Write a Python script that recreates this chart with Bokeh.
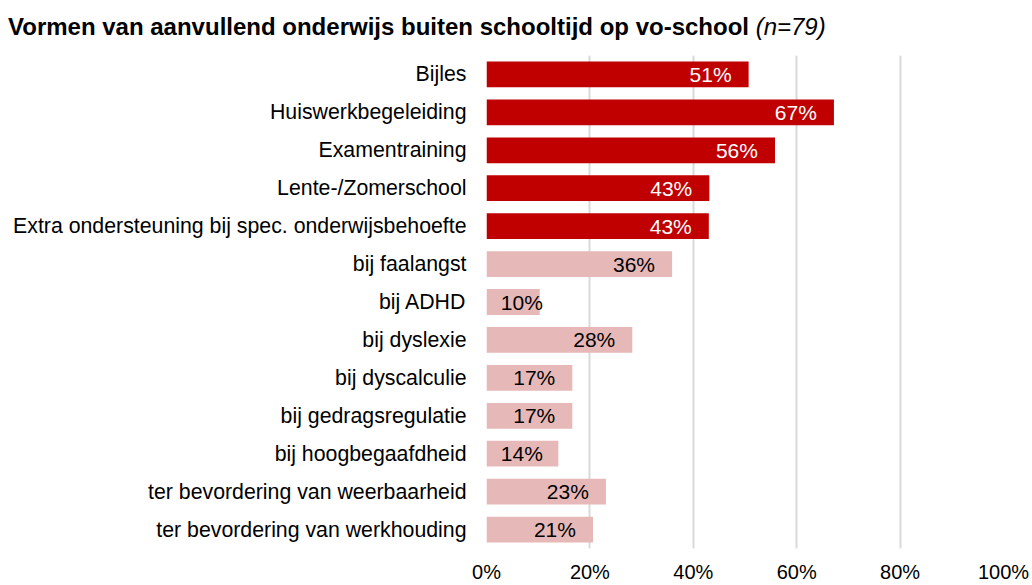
import numpy as np
from bokeh.plotting import figure
from bokeh.models import (ColumnDataSource, FactorRange, Range1d, FixedTicker,
                          PrintfTickFormatter, Div)
from bokeh.layouts import column
from bokeh.core.properties import value
from bokeh.embed import file_html
from bokeh.resources import INLINE

# ---- data ----
categories = ["Bijles", "Huiswerkbegeleiding", "Examentraining", "Lente-/Zomerschool",
              "Extra ondersteuning bij spec. onderwijsbehoefte", "bij faalangst",
              "bij ADHD", "bij dyslexie", "bij dyscalculie", "bij gedragsregulatie",
              "bij hoogbegaafdheid", "ter bevordering van weerbaarheid",
              "ter bevordering van werkhouding"]
values = [50.7, 67.2, 55.8, 43.1, 43.0, 35.9, 10.3, 28.2, 16.6, 16.6, 13.9, 23.1, 20.6]
value_labels = ["51%", "67%", "56%", "43%", "43%", "36%", "10%", "28%", "17%", "17%",
                "14%", "23%", "21%"]
groups = ["main"] * 5 + ["sub"] * 8
x_ticks = [0, 20, 40, 60, 80, 100]

title_main = "Vormen van aanvullend onderwijs buiten schooltijd op vo-school"
title_note = "(n=79)"

# ---- styling ----
FONT = "Liberation Sans"
bar_colors = {"main": "#C00000", "sub": "#E6B9B8"}
text_colors = {"main": "#FFFFFF", "sub": "#000000"}

vals = np.array(values)
src = ColumnDataSource(dict(
    cat=categories,
    val=values,
    lab=value_labels,
    lab_x=np.maximum(vals - 3.3, 10.9),
    color=[bar_colors[g] for g in groups],
    tcolor=[text_colors[g] for g in groups],
))

div = Div(
    text=(f'<div style="font-family:\'{FONT}\',Arial,sans-serif;font-size:24px;'
          f'line-height:28px;color:#000;padding:13px 0 0 8px;white-space:nowrap;">'
          f'<span style="font-weight:bold">{title_main}</span> '
          f'<span style="font-style:italic">{title_note}</span></div>'),
    width=1032, height=44, margin=(0, 0, 0, 0),
)

p = figure(
    width=1032, height=541,
    y_range=FactorRange(factors=list(reversed(categories)), range_padding=0),
    x_range=Range1d(0, 100),
    output_backend="svg", toolbar_location=None,
    min_border_left=486, min_border_right=29, min_border_top=11, min_border_bottom=35,
)
p.outline_line_color = None
p.background_fill_color = "white"
p.border_fill_color = "white"

p.hbar(y="cat", right="val", left=0, height=0.68, source=src,
       fill_color="color", line_color=None)

p.text(x="lab_x", y="cat", text="lab", source=src, text_color="tcolor",
       text_align="right", text_baseline="middle",
       text_font=value(FONT), text_font_size="21px")

# x axis
p.xaxis.ticker = FixedTicker(ticks=x_ticks)
p.xaxis.formatter = PrintfTickFormatter(format="%d%%")
p.xaxis.axis_line_color = None
p.xaxis.major_tick_line_color = None
p.xaxis.minor_tick_line_color = None
p.xaxis.major_tick_out = 0
p.xaxis.major_tick_in = 0
p.xaxis.major_label_standoff = 12
p.xaxis.major_label_text_font = FONT
p.xaxis.major_label_text_font_size = "20px"
p.xaxis.major_label_text_color = "#000000"

# y axis
p.yaxis.axis_line_color = None
p.yaxis.major_tick_line_color = None
p.yaxis.minor_tick_line_color = None
p.yaxis.major_tick_out = 0
p.yaxis.major_tick_in = 0
p.yaxis.major_label_standoff = 20
p.yaxis.major_label_text_font = FONT
p.yaxis.major_label_text_font_size = "21.3px"
p.yaxis.major_label_text_color = "#000000"

# grid
p.xgrid.ticker = FixedTicker(ticks=x_ticks)
p.xgrid.grid_line_color = "#D9D9D9"
p.xgrid.grid_line_width = 2
p.ygrid.grid_line_color = None

layout = column(div, p, spacing=0)
open("out.html", "w").write(file_html(layout, INLINE))
